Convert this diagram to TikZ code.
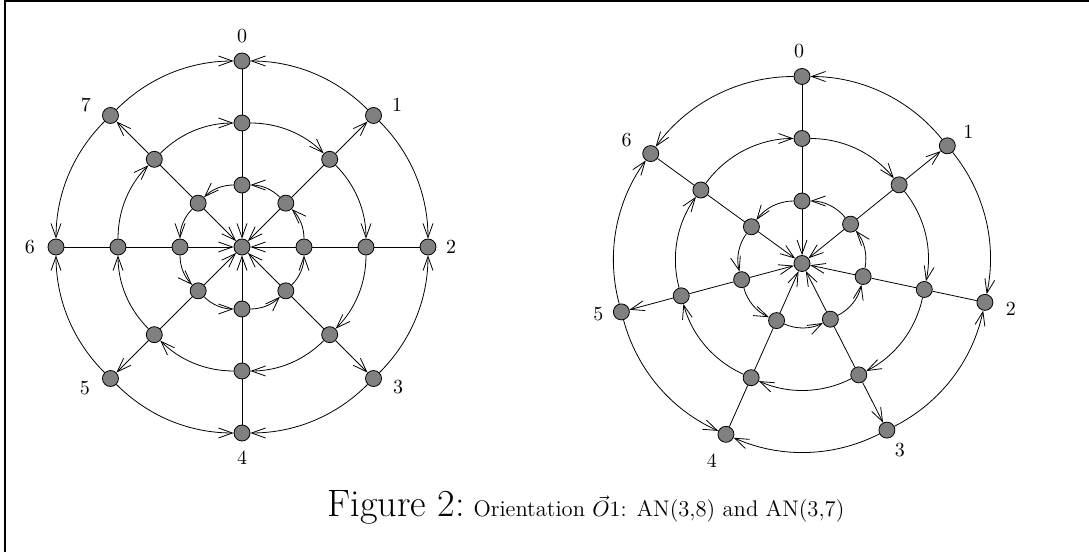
\documentclass[tikz,border=0pt]{standalone}
\usepackage{amsmath,amssymb}
\usepackage{tikz}
\usetikzlibrary{arrows.meta, calc}

\begin{document}
\begin{tikzpicture}[x=0.5pt, y=0.5pt, looseness=0.9]
            \tikzstyle{vert}=[circle, draw=black, fill=black!50, minimum size=8pt, inner sep=0pt]
            \tikzstyle{arr}=[-{Straight Barb[length=7pt, width=5pt]}]

            \useasboundingbox (0,0) rectangle (1089,552);
            % Frame
            \draw[line width=1pt] (5,0) -- (5,551) -- (1089,551);

            % AN(3,8)
            \begin{scope}[shift={(242,305)}]
                \node[vert] (ac) at (0,0) {};
                \foreach \k in {0,...,7} {
                    \node[vert] (ai\k) at ({90-45*\k}:62) {};
                    \node[vert] (am\k) at ({90-45*\k}:124) {};
                    \node[vert] (ao\k) at ({90-45*\k}:186) {};
                }
                \foreach \k in {0,...,7} {
                    \pgfmathtruncatemacro\nx{mod(\k+1,8)}
                    \draw[arr] (ai\k) -- (ac);
                    \draw (am\k) -- (ai\k);
                    \draw[arr] (am\k) to[bend left=22.5] (am\nx);
                    \draw[arr] (ai\nx) to[bend right=22.5] (ai\k);
                }
                % Outer spokes and rim
                \foreach \k in {0,2,4,6} \draw (am\k) -- (ao\k);
                \foreach \k in {1,3,5,7} {
                    \pgfmathtruncatemacro\nx{mod(\k+1,8)}
                    \pgfmathtruncatemacro\pv{\k-1}
                    \draw[arr] (am\k) -- (ao\k);
                    \draw[arr] (ao\k) to[bend right=22.5] (ao\pv);
                    \draw[arr] (ao\k) to[bend left=22.5] (ao\nx);
                }
                \node at ($(ao0)+(0,25)$) {0};
                \node at ($(ao1)+(23.5,10.5)$) {1};
                \node at ($(ao2)+(23,0)$) {2};
                \node at ($(ao3)+(24.5,-8.5)$) {3};
                \node at ($(ao4)+(0,-25)$) {4};
                \node at ($(ao5)+(-25.5,-9.5)$) {5};
                \node at ($(ao6)+(-26,0)$) {6};
                \node at ($(ao7)+(-24.5,10.5)$) {7};
            \end{scope}

            % AN(3,7)
            \begin{scope}[shift={(802,288.5)}]
                \node[vert] (bc) at (0,0) {};
                \foreach \k in {0,...,6} {
                    \node[vert] (bi\k) at ({90-51*\k}:62.5) {};
                    \node[vert] (bm\k) at ({90-51*\k}:125) {};
                    \node[vert] (bo\k) at ({90-51*\k}:187) {};
                }
                \foreach \k in {0,...,6} {
                    \pgfmathtruncatemacro\nx{mod(\k+1,7)}
                    \pgfmathsetmacro\bd{ifthenelse(\k==6,27,25.5)}
                    \draw[arr] (bi\k) -- (bc);
                    \draw (bm\k) -- (bi\k);
                    \draw[arr] (bm\k) to[bend left=\bd] (bm\nx);
                    \draw[arr] (bi\nx) to[bend right=\bd] (bi\k);
                }
                % Outer spokes and rim
                \foreach \k in {0,2,4,6} \draw (bm\k) -- (bo\k);
                \foreach \k in {1,3,5} \draw[arr] (bm\k) -- (bo\k);
                \draw[arr] (bo1) to[bend right=25.5] (bo0);
                \draw[arr] (bo0) to[bend right=27] (bo6);
                \draw[arr] (bo5) to[bend left=25.5] (bo6);
                \draw[arr] (bo5) to[bend right=25.5] (bo4);
                \draw[arr] (bo3) to[bend left=25.5] (bo4);
                \draw[arr] (bo3) to[bend right=25.5] (bo2);
                \draw[arr] (bo1) to[bend left=25.5] (bo2);
                \node at ($(bo0)+(-3,25)$) {0};
                \node at ($(bo1)+(21,14)$) {1};
                \node at ($(bo2)+(26,-6)$) {2};
                \node at ($(bo3)+(13,-20)$) {3};
                \node at ($(bo4)+(-14,-26)$) {4};
                \node at ($(bo5)+(-23,-2)$) {5};
                \node at ($(bo6)+(-24,14)$) {6};
            \end{scope}

            % Caption
            \node[anchor=base, inner sep=0pt] (cap) at (586,35) {{\fontsize{19.1}{22}\selectfont Figure 2:} {\fontsize{11.3}{13}\selectfont Orientation $\vec{O}1$: AN(3,8) and AN(3,7)}};
\end{tikzpicture}
\end{document}
